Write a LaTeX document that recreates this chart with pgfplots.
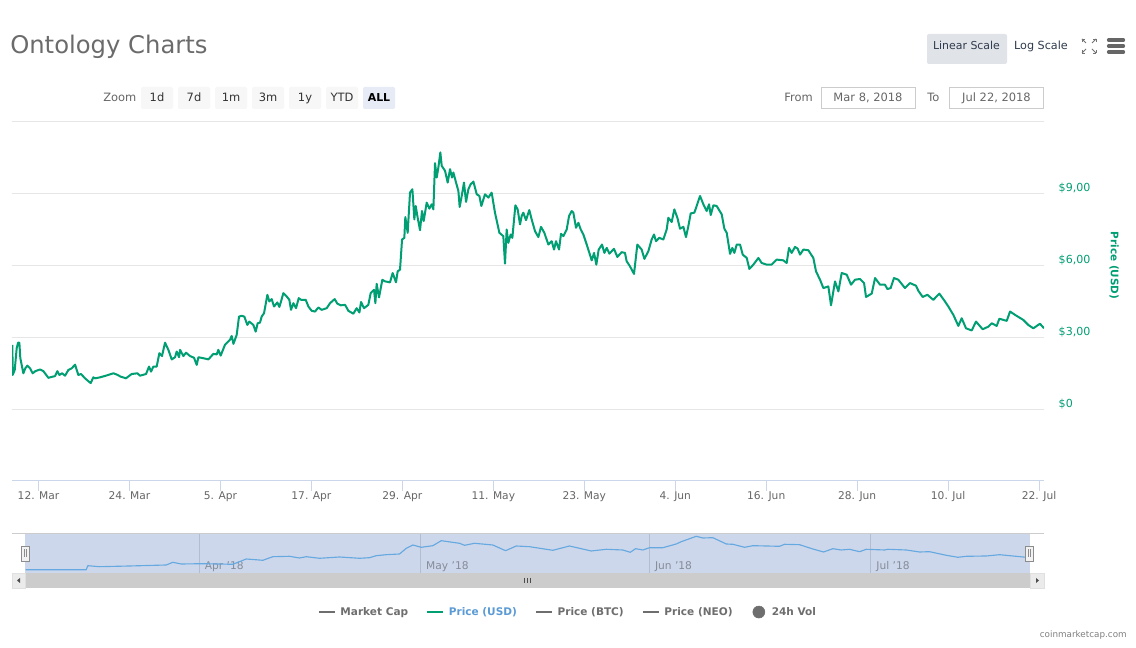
\documentclass[border=0pt]{standalone}
\usepackage{fontspec}
\setmainfont{DejaVu Sans}
\usepackage{pgfplots}
\usepackage{pgfplotstable}
\pgfplotsset{compat=1.18}
\definecolor{pricegreen}{HTML}{009E73}
\definecolor{axisblue}{HTML}{CCD6EB}
\definecolor{gridgrey}{HTML}{E6E6E6}
\definecolor{txt}{HTML}{666666}
\definecolor{navblue}{HTML}{66A8E0}
\definecolor{legblue}{HTML}{5B9BD5}
\definecolor{navfill}{HTML}{CDD7EB}
\definecolor{leggrey}{HTML}{6E6E6E}
\definecolor{btnscale}{HTML}{E0E3E8}
\definecolor{btnall}{HTML}{E6EBF5}
\definecolor{btntxt}{HTML}{2F3B4D}
\newcommand{\fs}[1]{\fontsize{#1}{#1}\selectfont}
% day = days after 12 March 2018; price in USD
\pgfplotstableread{
day price
-3.45 2.69
-3.41 1.43
-3.14 1.64
-2.88 2.55
-2.70 2.78
-2.53 2.78
-2.40 2.13
-2.18 1.78
-2.00 1.50
-1.74 1.71
-1.47 1.82
-1.12 1.71
-0.77 1.50
-0.42 1.59
0.20 1.66
0.64 1.59
1.30 1.31
1.87 1.36
2.18 1.38
2.48 1.59
2.75 1.43
3.10 1.50
3.50 1.40
3.94 1.64
4.38 1.71
4.82 1.86
5.25 1.43
5.61 1.47
6.13 1.29
6.88 1.09
7.23 1.33
7.45 1.29
8.11 1.33
8.99 1.41
9.87 1.50
10.31 1.45
10.84 1.36
11.54 1.29
12.29 1.47
13.04 1.50
13.39 1.40
14.18 1.47
14.58 1.78
14.84 1.57
15.15 1.78
15.59 1.78
15.94 2.34
16.29 2.22
16.69 2.78
17.13 2.48
17.57 2.08
18.01 2.17
18.23 2.41
18.54 2.17
18.67 2.48
19.11 2.22
19.46 2.36
19.99 2.22
20.51 2.15
20.87 1.85
21.09 2.17
21.75 2.13
22.41 2.08
23.06 2.31
23.51 2.29
23.72 2.48
24.03 2.24
24.60 2.69
25.26 2.90
25.48 3.06
25.71 2.73
26.14 3.10
26.45 3.87
26.80 3.90
27.15 3.87
27.55 3.52
27.81 3.66
28.34 3.52
28.65 3.24
28.91 3.59
29.22 3.62
29.44 3.87
29.75 4.01
30.19 4.78
30.45 4.50
30.76 4.60
31.07 4.29
31.51 4.46
31.77 4.27
31.99 4.50
32.30 4.85
32.74 4.71
33.09 4.57
33.31 4.15
33.62 4.43
33.97 4.22
34.33 4.64
34.63 4.57
35.25 4.57
35.60 4.29
36.04 4.11
36.48 4.08
36.92 4.25
37.36 4.15
38.02 4.22
38.46 4.43
39.07 4.60
39.42 4.41
39.86 4.34
40.44 4.36
40.88 4.11
41.53 3.99
41.97 4.22
42.33 4.04
42.55 4.48
42.94 4.22
43.51 4.36
43.82 4.85
44.26 4.99
44.44 4.43
44.61 5.24
44.92 4.67
45.36 5.41
45.71 5.34
46.37 5.30
46.72 5.69
47.16 5.30
47.38 5.76
47.69 5.83
47.96 7.09
48.26 7.16
48.39 8.03
48.70 7.37
49.01 9.05
49.32 9.19
49.58 7.93
49.76 8.49
50.02 8.00
50.33 7.48
50.59 8.28
50.81 7.86
51.21 8.63
51.56 8.38
51.87 8.56
52.09 8.35
52.31 10.28
52.53 9.68
52.75 10.10
53.01 10.73
53.19 10.17
53.63 9.96
53.98 9.47
54.29 10.03
54.55 9.68
54.73 9.89
55.08 9.47
55.39 9.12
55.56 8.45
55.83 8.91
56.13 9.47
56.40 8.66
56.71 9.19
57.01 9.40
57.37 9.51
57.81 8.98
58.16 8.91
58.42 8.49
58.90 8.98
59.34 8.84
59.78 9.05
60.22 8.21
60.80 7.37
61.32 7.23
61.54 6.08
61.76 7.51
61.98 6.95
62.29 7.30
62.51 7.16
62.91 8.52
63.21 8.35
63.52 7.72
63.74 8.07
63.96 8.21
64.31 7.90
64.75 8.32
65.06 7.93
65.50 7.44
65.94 7.19
66.29 7.62
66.73 7.37
67.26 6.88
67.70 7.02
68.01 6.67
68.27 7.02
68.67 6.67
68.93 7.33
69.24 7.23
69.68 7.51
69.99 8.07
70.34 8.28
70.56 8.21
70.91 7.58
71.22 7.79
71.53 7.51
71.88 7.30
72.32 6.88
72.67 6.53
72.98 6.22
73.29 6.53
73.59 6.04
73.90 6.67
74.34 6.88
74.65 6.53
74.96 6.74
75.31 6.50
75.92 6.70
76.36 6.36
76.93 6.56
77.37 6.53
77.59 6.18
78.03 5.97
78.56 5.65
79.00 6.88
79.57 6.67
79.93 6.28
80.45 6.60
80.89 7.09
81.20 7.30
81.46 7.02
81.90 7.16
82.43 7.09
82.87 7.51
83.09 8.00
83.53 7.82
83.88 8.35
84.28 8.00
84.63 7.54
85.07 7.62
85.42 7.19
85.73 7.65
86.04 8.18
86.52 8.21
86.83 8.49
87.27 8.91
87.71 8.56
88.15 8.28
88.46 8.56
88.68 8.11
89.03 8.52
89.47 8.49
90.13 8.14
90.48 7.54
90.79 7.37
91.23 6.49
91.53 6.74
91.80 6.53
92.11 6.88
92.55 6.88
92.90 6.46
93.43 6.32
93.78 5.86
94.31 6.04
94.97 6.32
95.40 6.11
96.06 6.04
96.72 6.04
97.38 6.25
98.26 6.22
98.70 6.11
99.01 6.74
99.36 6.53
99.80 6.78
100.15 6.71
100.46 6.46
100.90 6.67
101.56 6.64
102.22 6.32
102.57 5.76
103.10 5.41
103.54 5.06
104.20 5.13
104.55 4.34
105.08 5.34
105.52 4.92
105.96 5.69
106.62 5.62
107.19 5.20
107.72 5.41
108.38 5.44
108.91 5.27
109.17 4.69
109.92 4.83
110.36 5.48
111.02 5.20
111.68 5.20
111.98 5.02
112.42 5.06
112.86 5.48
113.43 5.41
114.31 5.06
114.97 5.27
115.76 5.16
116.07 4.95
116.64 4.69
117.26 4.78
118.05 4.57
118.84 4.83
119.59 4.50
120.03 4.29
120.69 3.94
121.35 3.48
121.79 3.80
122.36 3.38
123.11 3.29
123.68 3.66
124.56 3.34
125.31 3.45
125.75 3.59
126.41 3.48
126.76 3.78
127.73 3.69
128.17 4.08
128.83 3.94
129.92 3.73
130.58 3.52
131.24 3.38
132.12 3.57
132.65 3.38
}\pricetable
% navigator series, relative height
\pgfplotstableread{
day value
-3.51 3.3
4.72 3.3
4.93 7.3
6.52 6.3
10.58 7
15.56 8
16.45 10.7
17.59 9
20.51 9.3
24.58 8.7
26.40 14
28.65 12.7
30.00 16.3
32.26 16.7
33.62 15
34.53 16.3
36.33 14.7
39.04 16
41.75 14.7
43.10 15.3
44.01 17.3
45.37 18.3
47.17 19
48.08 24.7
48.97 28
50.11 25.7
51.68 27.3
52.82 32.3
55.30 29.7
55.98 27.7
57.33 29.7
59.81 28
61.53 22.3
62.98 27
64.78 26.3
67.94 22.7
70.20 27
73.14 22
75.18 23.7
77.42 23
78.43 20.7
79.15 24.3
80.14 23
81.04 25.3
82.85 25.3
84.66 29
85.34 31.3
87.37 36.7
88.27 35
89.62 35.3
91.44 29
92.33 28.7
93.92 25.7
95.04 27.3
98.66 26.7
99.34 28.7
101.37 28.3
103.17 24
104.62 21
105.88 24.3
107.02 23
108.14 23.7
109.50 21.3
110.41 23.7
112.89 23
113.33 23.7
115.83 23
117.63 21
118.98 21.3
121.25 17.7
122.82 15.7
123.96 16.7
126.67 17
128.47 18.3
132.09 15.7
}\navtable
\begin{document}
\begin{tikzpicture}
\path[use as bounding box,fill=white] (0,0) rectangle (852pt,486pt);
% main chart
\begin{axis}[
  at={(9pt,125.25pt)},anchor=south west,scale only axis,
  width=774pt,height=269.25pt,
  xmin=-3.5,xmax=132.65,ymin=-3,ymax=12,
  axis x line=bottom,axis y line=right,
  x axis line style={-,draw=axisblue,line width=0.75pt},
  y axis line style={draw=none},
  xtick={0,12,24,36,48,60,72,84,96,108,120,132},
  xticklabels={12. Mar,24. Mar,5. Apr,17. Apr,29. Apr,11. May,23. May,4. Jun,16. Jun,28. Jun,10. Jul,22. Jul},
  xtick style={draw=axisblue,line width=0.75pt},
  tick align=outside,major tick length=7.5pt,
  xticklabel style={font=\fs{8},text=txt,yshift=3.3pt},
  ytick={0,3,6,9,12},
  yticklabels={\$0,\$3{,}00,\$6{,}00,\$9{,}00,{}},
  ytick style={draw=none},
  yticklabel style={font=\fs{8.3},text=pricegreen,anchor=base west,xshift=0pt,yshift=1.5pt},
  ymajorgrids,
  major grid style={draw=gridgrey,line width=0.75pt},
  ylabel={Price (USD)},
  ylabel style={at={(axis description cs:1.068,0.60)},anchor=center,rotate=180,font=\bfseries\fs{7.8},text=pricegreen},
  legend columns=5,
  legend style={at={(axis description cs:0.539,-0.365)},anchor=center,draw=none,fill=none,
    font=\bfseries\fs{7.9},text=leggrey,
    /tikz/every even column/.append style={column sep=11.5pt},
    /tikz/every odd column/.append style={column sep=1.5pt}},
  legend cell align=left,
  legend image code/.code={\draw[#1,line width=1.5pt] (0pt,0pt) -- (12pt,0pt);},
]
\addlegendimage{leggrey}
\addlegendentry{Market Cap}
\addplot[pricegreen,line width=1.5pt,line join=round] table[x=day,y=price] {\pricetable};
\addlegendentry{\textcolor{legblue}{Price (USD)}}
\addlegendimage{leggrey}
\addlegendentry{Price (BTC)}
\addlegendimage{leggrey}
\addlegendentry{Price (NEO)}
\addlegendimage{legend image code/.code={\draw[opacity=0] (0pt,0pt) -- (12pt,0pt);\fill[leggrey] (6pt,0pt) circle (4.5pt);}}
\addlegendentry{24h Vol}
\end{axis}
% navigator
\begin{axis}[
  at={(18.75pt,56.25pt)},anchor=south west,scale only axis,
  width=753.4pt,height=29.25pt,
  xmin=-3.58,xmax=132.53,ymin=0,ymax=39,
  axis background/.style={fill=navfill},
  axis line style={draw=none},
  ytick=\empty,
  xtick={20,50,81,111},
  xticklabels={Apr '18,May '18,Jun '18,Jul '18},
  xtick style={draw=none},
  xmajorgrids,
  major grid style={draw=black!12!navfill,line width=0.6pt},
  xticklabel style={font=\fs{8},text=black!35!navfill,anchor=south west,xshift=0.8pt,yshift=-18.5pt},
  typeset ticklabels with strut,
  xticklabel shift=-15pt,
]
\addplot[navblue,line width=0.85pt,line join=round] table[x=day,y=value] {\navtable};
\end{axis}
\begin{scope}[x=0.75pt,y=-0.75pt,yshift=486pt]
% title
\node[anchor=base west,inner sep=0,font=\fs{18.2},text=black!58] at (10,53.5) {Ontology Charts};
% scale buttons
\fill[rounded corners=1.5pt,fill=btnscale] (927,34) rectangle (1007,64);
\node[anchor=base,inner sep=0,font=\fs{8.2},text=btntxt] at (966.5,50) {Linear Scale};
\node[anchor=base,inner sep=0,font=\fs{8.4},text=btntxt] at (1041,50) {Log Scale};
% fullscreen icon
\foreach \sx/\sy in {1082/39,1096/39,1082/53,1096/53}{
  \pgfmathsetmacro{\dx}{\sx==1082?1:-1}
  \pgfmathsetmacro{\dy}{\sy==39?1:-1}
  \draw[black!55,line width=0.6pt] (\sx,\sy) -- ++(4*\dx,4*\dy);
  \draw[black!55,line width=0.6pt] (\sx,\sy) -- ++(3*\dx,0) (\sx,\sy) -- ++(0,3*\dy);
}
% menu icon
\foreach \yy in {40,46,52}{\draw[black!60,line width=2.4pt,line cap=round] (1108.5,\yy) -- (1123.5,\yy);}
% range selector
\node[anchor=base west,inner sep=0,font=\fs{8.6},text=txt] at (103,102) {Zoom};
\foreach \xx/\lab in {141/1d,178/7d,215/1m,252/3m,289/1y,326/YTD}{
  \fill[rounded corners=1pt,fill=black!3] (\xx,87) rectangle ++(32,22);
  \node[anchor=base,inner sep=0,font=\fs{8.6},text=black!80] at (\xx+16,101.5) {\lab};
}
\fill[rounded corners=1pt,fill=btnall] (363,87) rectangle ++(32,22);
\node[anchor=base,inner sep=0,font=\bfseries\fs{8.2},text=black] at (379,101.5) {ALL};
% date inputs
\node[anchor=base west,inner sep=0,font=\fs{8.6},text=txt] at (784,101.5) {From};
\draw[black!20,line width=0.75pt] (821.5,87.5) rectangle (915.5,108.5);
\node[anchor=base,inner sep=0,font=\fs{8.6},text=txt] at (868,101.5) {Mar 8, 2018};
\node[anchor=base west,inner sep=0,font=\fs{8.6},text=txt] at (927,101.5) {To};
\draw[black!20,line width=0.75pt] (949.5,87.5) rectangle (1043.5,108.5);
\node[anchor=base,inner sep=0,font=\fs{8.6},text=txt] at (996.5,101.5) {Jul 22, 2018};
% navigator frame and scrollbar
\draw[black!20,line width=0.75pt] (12,533.5) -- (1044,533.5);
\fill[black!20] (12,573) rectangle (1044,588);
\fill[black!8] (12,573) rectangle (25,588);
\fill[black!8] (1030,573) rectangle (1044,588);
\draw[black!12,line width=0.5pt] (12,573) rectangle (25,588) (1030,573) rectangle (1044,588);
\fill[black!70] (20,578) -- (20,583) -- (17,580.5) -- cycle;
\fill[black!70] (1036,578) -- (1036,583) -- (1039,580.5) -- cycle;
\draw[black!70,line width=0.5pt] (524.5,578) -- (524.5,583) (527.5,578) -- (527.5,583) (530.5,578) -- (530.5,583);
% handles
\foreach \xx in {21.5,1025.5}{
  \fill[black!5] (\xx,546) rectangle ++(8,15);
  \draw[black!45,line width=0.6pt] (\xx,546) rectangle ++(8,15);
  \draw[black!45,line width=0.45pt] (\xx+3,549.5) -- ++(0,8) (\xx+5,549.5) -- ++(0,8);
}
% credit
\node[anchor=base east,inner sep=0,font=\fs{6.6},text=black!50] at (1127,637.5) {coinmarketcap.com};
\end{scope}
\end{tikzpicture}
\end{document}
